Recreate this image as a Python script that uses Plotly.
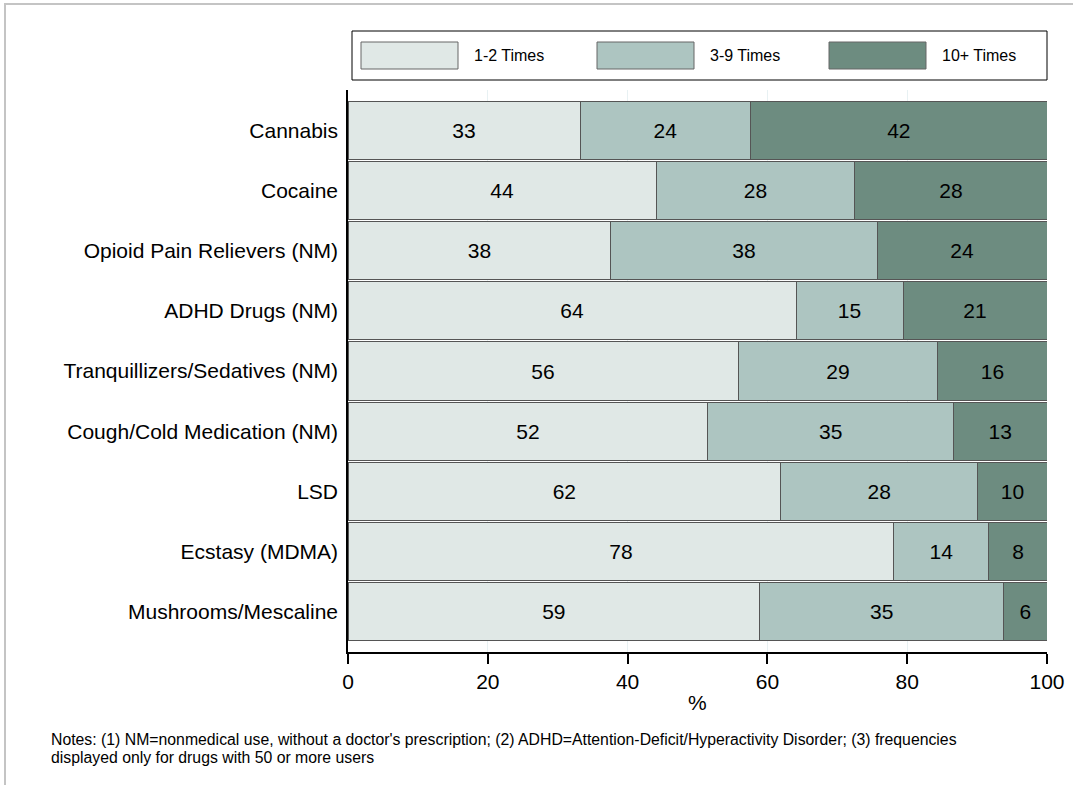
import plotly.graph_objects as go

categories = ["Cannabis", "Cocaine", "Opioid Pain Relievers (NM)", "ADHD Drugs (NM)",
              "Tranquillizers/Sedatives (NM)", "Cough/Cold Medication (NM)", "LSD",
              "Ecstasy (MDMA)", "Mushrooms/Mescaline"]
times_1_2 = [33.2, 44.1, 37.6, 64.1, 55.8, 51.5, 61.9, 78.1, 58.9]
times_3_9 = [24.4, 28.4, 38.1, 15.3, 28.6, 35.1, 28.2, 13.6, 34.9]
times_10p = [42.4, 27.5, 24.3, 20.6, 15.6, 13.4, 9.9, 8.3, 6.2]
series_names = ["1-2 Times", "3-9 Times", "10+ Times"]
colors = ["#e0e8e6", "#adc5c1", "#6d8c80"]
x_ticks = [0, 20, 40, 60, 80, 100]
notes = ["Notes: (1) NM=nonmedical use, without a doctor's prescription; (2) ADHD=Attention-Deficit/Hyperactivity Disorder; (3) frequencies",
         "displayed only for drugs with 50 or more users"]

FONT = "Liberation Sans, Arial, sans-serif"
W, H = 1073, 785
L, R, T, B = 348, 1047, 90, 652

def px(x):
    return (x - L) / (R - L)

def py(y):
    return (B - y) / (B - T)

fig = go.Figure()
for name, vals, col in zip(series_names, [times_1_2, times_3_9, times_10p], colors):
    fig.add_trace(go.Bar(
        y=categories, x=vals, name=name, orientation="h",
        marker=dict(color=col, line=dict(color="#555555", width=1)),
        text=vals, texttemplate="%{x:.0f}", textposition="inside",
        insidetextanchor="middle", constraintext="none",
        textfont=dict(family=FONT, size=21, color="black"),
        showlegend=False,
    ))

shapes = []
# outer frame (right and bottom edges fall outside the picture, as in the reference)
shapes.append(dict(type="rect", xref="paper", yref="paper",
                   x0=px(5), x1=px(1085), y0=py(4), y1=py(797),
                   line=dict(color="#c4c4c4", width=2), fillcolor="rgba(0,0,0,0)", layer="below"))
# legend box
shapes.append(dict(type="rect", xref="paper", yref="paper",
                   x0=px(352), x1=px(1047), y0=py(31), y1=py(80),
                   line=dict(color="black", width=1), fillcolor="white"))
annotations = []
sw_x = [361, 597, 829]
for i, (name, col) in enumerate(zip(series_names, colors)):
    shapes.append(dict(type="rect", xref="paper", yref="paper",
                       x0=px(sw_x[i]), x1=px(sw_x[i] + 97), y0=py(42), y1=py(69),
                       line=dict(color="#666666", width=1), fillcolor=col))
    annotations.append(dict(xref="paper", yref="paper", x=px(sw_x[i] + 111), y=py(55.5),
                            text=name, showarrow=False, xanchor="left", yanchor="middle",
                            font=dict(family=FONT, size=16, color="black")))

for i, line in enumerate(notes):
    annotations.append(dict(xref="paper", yref="paper", x=px(49), y=py(739 + 18 * i),
                            text=line, showarrow=False, xanchor="left", yanchor="middle",
                            align="left", font=dict(family=FONT, size=15.8, color="black")))

# x-axis title
annotations.append(dict(xref="paper", yref="paper", x=0.5, y=py(702), text="%",
                        showarrow=False, xanchor="center", yanchor="middle",
                        font=dict(family=FONT, size=21, color="black")))

fig.update_layout(
    width=W, height=H, autosize=False,
    margin=dict(l=L, r=W - R, t=T, b=H - B, pad=0, autoexpand=False),
    barmode="stack", bargap=0.035,
    paper_bgcolor="white", plot_bgcolor="white",
    font=dict(family=FONT, size=21, color="black"),
    shapes=shapes, annotations=annotations,
    showlegend=False,
    xaxis=dict(range=[0, 100], tickvals=x_ticks, ticks="outside", ticklen=10,
               tickwidth=1.5, tickcolor="black", showline=True, linecolor="black", linewidth=1.5,
               showgrid=True, gridcolor="#e8f1f3", gridwidth=1, zeroline=False,
               tickfont=dict(family=FONT, size=21), automargin=False),
    yaxis=dict(range=[8.67, -0.67], showline=True, linecolor="black", linewidth=1.5,
               ticks="", showgrid=False, ticklabelstandoff=4, automargin=False,
               tickfont=dict(family=FONT, size=21)),
)

fig.write_html("out.html", config={"displayModeBar": False},
               post_script="document.body.style.margin='0';document.body.style.padding='0';")
